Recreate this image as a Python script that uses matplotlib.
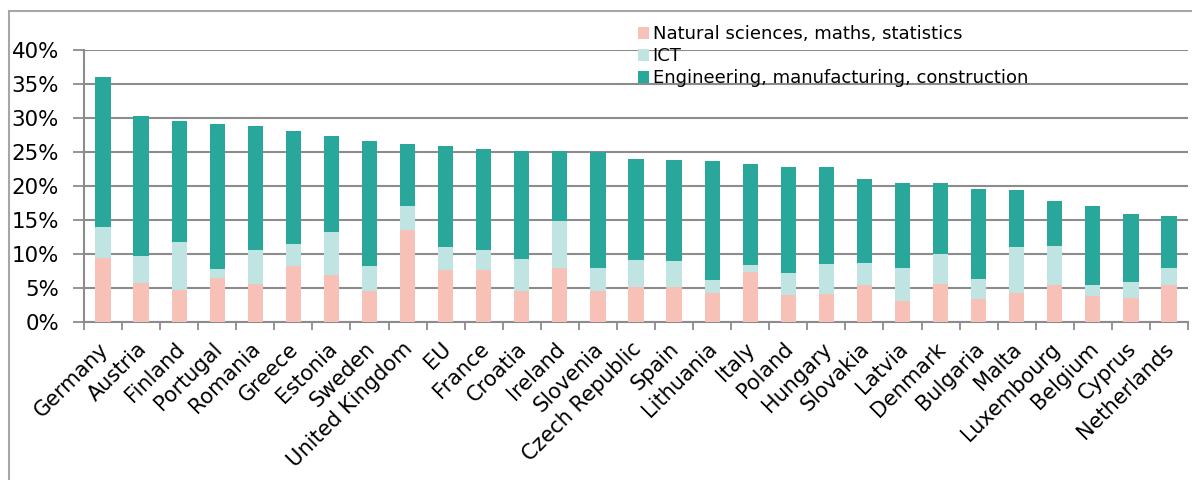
import matplotlib
matplotlib.use("Agg")
import matplotlib.pyplot as plt
from matplotlib.patches import Rectangle
from matplotlib.ticker import FuncFormatter
from matplotlib.transforms import ScaledTranslation
import numpy as np

plt.rcParams["font.family"] = ["DejaVu Sans"]

countries = ["Germany", "Austria", "Finland", "Portugal", "Romania", "Greece", "Estonia",
             "Sweden", "United Kingdom", "EU", "France", "Croatia", "Ireland", "Slovenia",
             "Czech Republic", "Spain", "Lithuania", "Italy", "Poland", "Hungary", "Slovakia",
             "Latvia", "Denmark", "Bulgaria", "Malta", "Luxembourg", "Belgium", "Cyprus",
             "Netherlands"]

# cumulative tops (percent)
nat_top = [9.4, 5.7, 4.7, 6.5, 5.6, 8.3, 6.9, 4.5, 13.55, 7.6, 7.6, 4.5, 7.95, 4.55,
           5.1, 5.15, 4.2, 7.4, 4.0, 4.1, 5.45, 3.05, 5.55, 3.35, 4.2, 5.45, 3.8, 3.55, 5.45]
ict_top = [14.0, 9.7, 11.8, 7.75, 10.65, 11.5, 13.25, 8.25, 17.1, 11.05, 10.65, 9.2, 14.9, 8.0,
           9.1, 9.0, 6.25, 8.4, 7.2, 8.5, 8.7, 7.9, 10.0, 6.3, 11.05, 11.25, 5.4, 5.9, 7.9]
total = [36.0, 30.3, 29.5, 29.1, 28.8, 28.1, 27.4, 26.55, 26.25, 25.95, 25.5, 25.2, 25.2, 25.0,
         23.95, 23.8, 23.75, 23.2, 22.8, 22.8, 21.05, 20.45, 20.4, 19.6, 19.45, 17.8, 17.0, 15.85, 15.6]

nat = np.array(nat_top)
ict = np.array(ict_top) - nat
eng = np.array(total) - np.array(ict_top)

series_names = ["Natural sciences, maths, statistics", "ICT",
                "Engineering, manufacturing, construction"]
colors = ["#F8C1B8", "#C0E4E1", "#2AA79B"]

fig = plt.figure(figsize=(11.92, 4.8), dpi=100)
W, H = 1192, 480
ax = fig.add_axes([84 / W, (H - 322) / H, (1188 - 84) / W, (322 - 50) / H])

x = np.arange(len(countries))
bw = 0.40
grid_c = "#8C8C8C"
ax.set_axisbelow(True)
ax.yaxis.grid(True, color=grid_c, linewidth=1.5)

b1 = ax.bar(x, nat, bw, color=colors[0], label=series_names[0], zorder=3)
b2 = ax.bar(x, ict, bw, bottom=nat, color=colors[1], label=series_names[1], zorder=3)
b3 = ax.bar(x, eng, bw, bottom=np.array(ict_top), color=colors[2], label=series_names[2], zorder=3)

ax.set_xlim(-0.5, len(countries) - 0.5)
ax.set_ylim(0, 40)
ax.set_yticks(np.arange(0, 41, 5))
ax.yaxis.set_major_formatter(FuncFormatter(lambda v, p: f"{int(v)}%"))

ax.set_xticks(x)
ax.set_xticklabels(countries, rotation=45, ha="right", rotation_mode="anchor")
ax.set_xticks(np.arange(-0.5, len(countries), 1.0), minor=True)
ax.tick_params(axis="x", which="major", length=0, pad=12, labelsize=15)
ax.tick_params(axis="x", which="minor", length=6, width=1.3, color=grid_c, direction="out")
ax.tick_params(axis="y", length=8, width=1.3, color=grid_c, labelsize=15.4, pad=10)

offset = ScaledTranslation(-5 / 100, 0, fig.dpi_scale_trans)
for lbl in ax.get_xticklabels():
    lbl.set_transform(lbl.get_transform() + offset)

for s in ["top", "right"]:
    ax.spines[s].set_visible(False)
for s in ["left", "bottom"]:
    ax.spines[s].set_color(grid_c)
    ax.spines[s].set_linewidth(1.5)

leg = fig.legend(handles=[b1, b2, b3], loc="upper left",
                 bbox_to_anchor=(631 / W, (H - 18) / H), frameon=False,
                 fontsize=13, handlelength=0.6, handleheight=0.6,
                 handletextpad=0.2, labelspacing=0.22, borderaxespad=0)

fig.patches.append(Rectangle((9 / W, -0.1), 2.0, (H - 11) / H + 0.1,
                             transform=fig.transFigure, fill=False,
                             edgecolor="#A6A6A6", linewidth=1.5))

fig.savefig("out.png", dpi=100)
